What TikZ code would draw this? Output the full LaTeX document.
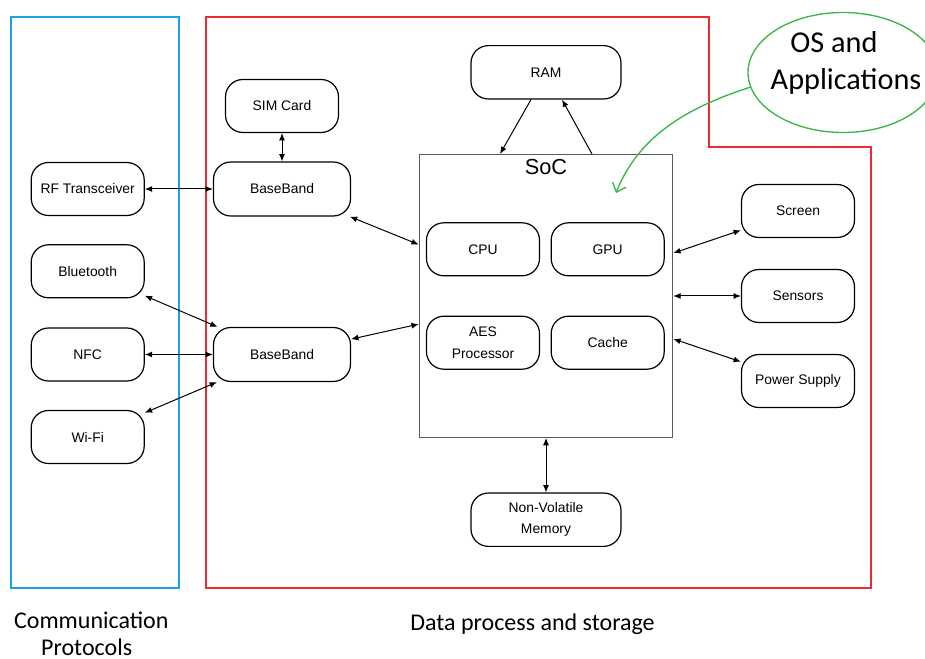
\documentclass[tikz,border=0pt]{standalone}
\usepackage{fontspec}
\usetikzlibrary{arrows.meta,shapes.geometric}
\newfontfamily\arialf{Liberation Sans}
\newfontfamily\calibrif{Carlito}
\definecolor{bluebox}{HTML}{1BA1E2}
\definecolor{redbox}{HTML}{EC2A32}
\definecolor{greenc}{HTML}{39B54A}
\definecolor{socgray}{HTML}{5A5A5A}
\begin{document}
\begin{tikzpicture}[x=0.75pt,y=-0.75pt,
  box/.style={draw, rounded corners=13pt, line width=0.9pt, minimum width=84.75pt,
    minimum height=39.75pt, inner sep=0pt, align=center,
    font=\arialf\fontsize{10.4}{16}\selectfont},
  bbbox/.style={box, minimum width=102.75pt, minimum height=40.5pt},
  widebox/.style={box, minimum width=112.5pt, minimum height=40pt},
  conn/.style={line width=0.75pt, {Latex[length=5.5pt,width=4.5pt]}-{Latex[length=5.5pt,width=4.5pt]}},
  oneway/.style={line width=0.75pt, -{Latex[length=5.5pt,width=4.5pt]}},
  bigtext/.style={inner sep=0pt, anchor=base, font=\calibrif\fontsize{18}{22}\selectfont}
]
\clip (0,0) rectangle (925,659);
\useasboundingbox (0,0) rectangle (925,659);

% region frames
\draw[bluebox, line width=1.5pt] (11,17) rectangle (179,588);
\draw[redbox, line width=1.5pt] (206,17) -- (709,17) -- (709,147) -- (871,147) -- (871,588) -- (206,588) -- cycle;

% SoC
\node[draw=socgray, line width=0.9pt, minimum width=190pt, minimum height=212pt, inner sep=0pt] (soc) at (546,296) {};
\node[inner sep=0pt, font=\arialf\fontsize{16.3}{18}\selectfont] (soclabel) at (546,167) {SoC};

% nodes
\node[box] (sim) at (282,106) {SIM Card};
\node[bbbox] (bb1) at (282,189) {BaseBand};
\node[bbbox] (bb2) at (282,354.5) {BaseBand};
\node[box] (rf) at (87.7,189) {RF Transceiver};
\node[box] (bt) at (87.7,271.3) {Bluetooth};
\node[box] (nfc) at (87.7,354.5) {NFC};
\node[box] (wifi) at (87.7,437) {Wi-Fi};
\node[box] (cpu) at (483,249.3) {CPU};
\node[box] (gpu) at (607.7,249.3) {GPU};
\node[box] (aes) at (483,342.7) {AES\\Processor};
\node[box] (cache) at (607.7,342.7) {Cache};
\node[widebox] (ram) at (546,72.3) {RAM};
\node[widebox] (nvm) at (546,519.7) {Non-Volatile\\Memory};
\node[box] (screen) at (798,211) {Screen};
\node[box] (sensors) at (798,296) {Sensors};
\node[box] (power) at (798,381) {Power Supply};

% connectors
\draw[conn] (sim) -- (bb1);
\draw[conn] (rf) -- (bb1);
\draw[conn] (bb1) -- (soc);
\draw[conn] (bt) -- (bb2);
\draw[conn] (nfc) -- (bb2);
\draw[conn] (wifi) -- (bb2);
\draw[conn] (bb2) -- (soc);
\draw[conn] (soc) -- (screen);
\draw[conn] (soc) -- (sensors);
\draw[conn] (soc) -- (power);
\draw[conn] (soc) -- (nvm);
\draw[oneway] ([xshift=-11.25pt]ram.south) -- ([xshift=-34.5pt]soc.north);
\draw[oneway] ([xshift=34.5pt]soc.north) -- ([xshift=12pt]ram.south);

% OS ellipse
\node[draw=greenc, line width=1pt, ellipse, minimum width=142.5pt, minimum height=90pt, inner sep=0pt] (os) at (843,72.5) {};
\node[inner sep=0pt, anchor=base, font=\calibrif\fontsize{22.7}{27}\selectfont] (ostext1) at (834,52.7) {OS and};
\node[inner sep=0pt, anchor=base, font=\calibrif\fontsize{22.7}{27}\selectfont] (ostext2) at (846,90) {Applications};
\coordinate (ostarget) at (616,193);
\draw[greenc, line width=1pt, -{Straight Barb[length=6pt,width=11pt]}] (os.189) .. controls (695,105) and (640,132) .. (ostarget);

% bottom labels
\node[bigtext] (comm1) at (91.3,628) {Communication};
\node[bigtext] (comm2) at (86.7,655) {Protocols};
\node[bigtext] (data) at (532.5,630) {Data process and storage};
\end{tikzpicture}
\end{document}
